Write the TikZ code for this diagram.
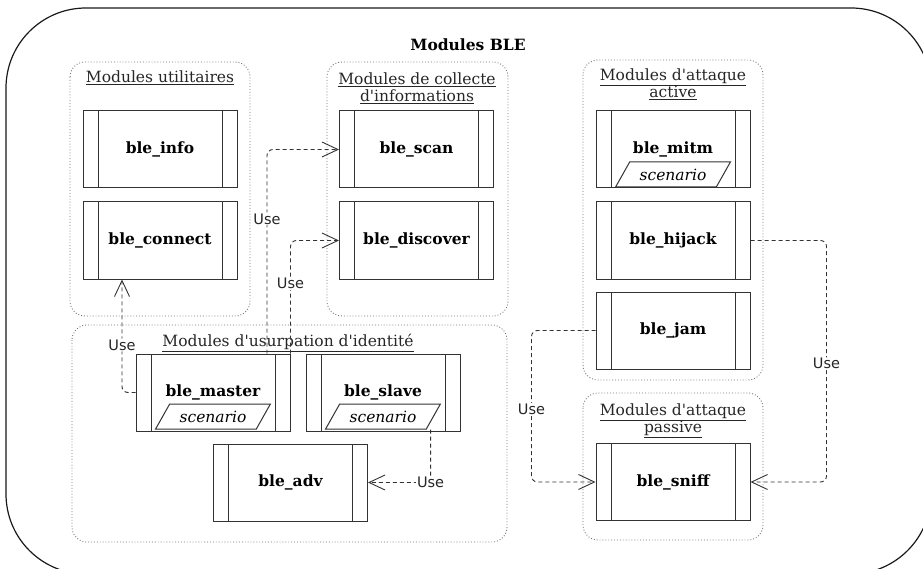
\documentclass[tikz,border=0pt]{standalone}
\usepackage{fontspec}
\setmainfont{DejaVu Serif}
\newfontfamily\usesans{DejaVu Sans}
\usetikzlibrary{arrows.meta,positioning,shapes.geometric}

\begin{document}
\begin{tikzpicture}[x=1pt,y=-1pt]
\tikzset{modbox/.style={draw=black!80,line width=1pt,fill=white,
  minimum width=154pt,minimum height=77pt,inner sep=0pt,
  font=\fontsize{15.5}{18}\selectfont\bfseries,
  path picture={
    \draw[black!80,line width=1pt]
      ([xshift=15pt]path picture bounding box.north west) -- ([xshift=15pt]path picture bounding box.south west)
      ([xshift=-15pt]path picture bounding box.north east) -- ([xshift=-15pt]path picture bounding box.south east);}}}
\tikzset{scen/.style={trapezium,trapezium left angle=47,trapezium right angle=133,
  trapezium stretches=true,minimum width=115pt,minimum height=25pt,inner sep=0pt,
  draw=black!80,line width=1pt,fill=white,font=\fontsize{15.5}{18}\selectfont\itshape,anchor=south}}
\tikzset{group/.style={draw=black!55,dotted,line width=0.9pt,rounded corners=15pt}}
\tikzset{grouplabel/.style={font=\fontsize{15.5}{17}\selectfont,align=center,inner sep=0pt,text=black!85}}
\tikzset{usearrow/.style={draw=black!80,line width=0.9pt,dash pattern=on 4pt off 3pt,rounded corners=6pt,
  -{Straight Barb[length=16pt,width=15pt,line width=0.9pt]}}}
\tikzset{uselabel/.style={fill=white,inner sep=1pt,font=\usesans\fontsize{14.5}{17}\selectfont,text=black!85}}

\path[use as bounding box,clip] (0,0) rectangle (923,569);

% outer frame
\draw[black!90,line width=1.2pt,rounded corners=80pt] (6,8) rectangle (931,574);
\node[font=\fontsize{15.5}{18}\selectfont\bfseries] (title) at (468,45) {Modules BLE};

% groups
\draw[group] (70,62) rectangle (250,316);
\draw[group] (327,62) rectangle (508,316);
\draw[group] (583,60) rectangle (763,380);
\draw[group] (72,325) rectangle (507,542);
\draw[group] (583,393) rectangle (763,540);

\node[grouplabel] (gutil) at (160,78) {\underline{Modules utilitaires}};
\node[grouplabel] (gcoll) at (417,88) {\underline{Modules de collecte}\\\underline{d\textquotesingle informations}};
\node[grouplabel] (gact) at (673,84) {\underline{Modules d\textquotesingle attaque}\\\underline{active}};
\node[grouplabel] (gusurp) at (288,343) {\underline{Modules d\textquotesingle usurpation d\textquotesingle identité}};
\node[grouplabel] (gpass) at (673,421) {\underline{Modules d\textquotesingle attaque}\\\underline{passive}};

% modules
\node[modbox] (info) at (160,149.5) {ble\_info};
\node[modbox,below=13pt of info] (connect) {ble\_connect};
\node[modbox] (scan) at (416.5,149.5) {ble\_scan};
\node[modbox,below=13pt of scan] (discover) {ble\_discover};
\node[modbox] (mitm) at (673,149.5) {ble\_mitm};
\node[modbox,below=13pt of mitm] (hijack) {ble\_hijack};
\node[modbox,below=12pt of hijack] (jam) {ble\_jam};
\node[modbox] (master) at (213,392.5) {ble\_master};
\node[modbox,right=15pt of master] (slave) {ble\_slave};
\node[modbox] (adv) at (290.5,482.5) {ble\_adv};
\node[modbox] (sniff) at (673,482) {ble\_sniff};

\node[scen] (mitmsc) at ([yshift=1pt]mitm.south) {scenario};
\node[scen] (mastersc) at ([yshift=2pt]master.south) {scenario};
\node[scen] (slavesc) at ([yshift=2pt]slave.south) {scenario};

% dependencies
\draw[usearrow] (master.west) -| ([xshift=-38pt]connect.south) node[uselabel,pos=0.71] {Use};
\draw[usearrow] ([xshift=54pt]master.north) |- (scan.west) node[uselabel,pos=0.33] {Use};
\draw[usearrow] (master.north east) |- (discover.west) node[uselabel,pos=0.31] {Use};
\draw[usearrow] ([xshift=4pt]slavesc.bottom right corner) |- (adv.east) node[uselabel,pos=0.5] {Use};
\draw[usearrow] (jam.west) -- ([xshift=-64pt]jam.west) |- (sniff.west) node[uselabel,pos=0.26] {Use};
\draw[usearrow] (hijack.east) -- ([xshift=76pt]hijack.east) |- (sniff.east) node[uselabel,pos=0.255] {Use};
\end{tikzpicture}
\end{document}
